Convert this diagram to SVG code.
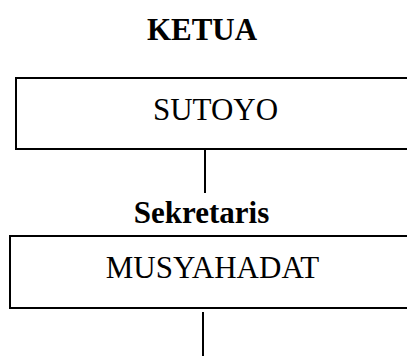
<svg xmlns="http://www.w3.org/2000/svg" width="407" height="356" viewBox="0 0 407 356">
<style>
.box{fill:#fff;stroke:#000;stroke-width:2}
.t{font-family:"Liberation Serif","Times New Roman",serif;font-size:31px;fill:#000;text-anchor:middle}
.b{font-weight:bold}
.c{stroke:#000;stroke-width:2;fill:none}
</style>
<rect width="407" height="356" fill="#fff"/>
<text class="t b" x="202" y="40">KETUA</text>
<g id="sutoyo">
<rect class="box" x="16" y="78" width="400" height="71"/>
<text class="t" x="215.5" y="120">SUTOYO</text>
</g>
<text class="t b" x="201.5" y="223">Sekretaris</text>
<g id="musyahadat">
<rect class="box" x="10" y="236" width="406" height="72"/>
<text class="t" x="212.5" y="278">MUSYAHADAT</text>
</g>
<g id="connectors">
<line class="c" x1="205" y1="150" x2="205" y2="193"/>
<line class="c" x1="203" y1="312" x2="203" y2="356"/>
</g>
</svg>
